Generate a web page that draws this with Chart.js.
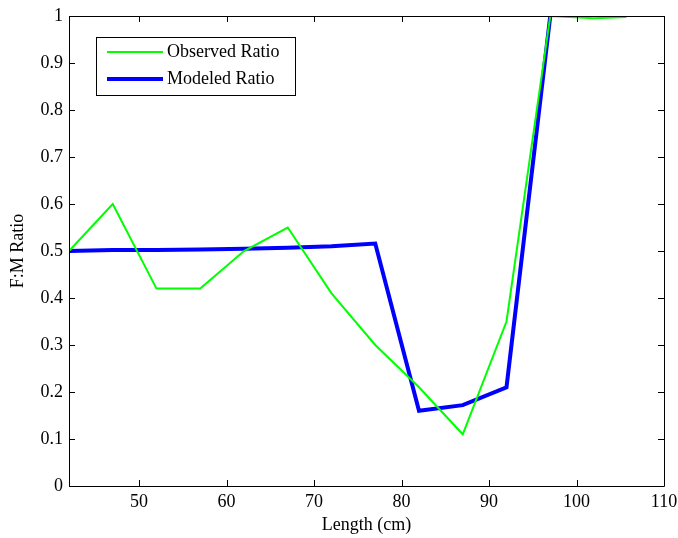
<!DOCTYPE html>
<html>
<head>
<meta charset="utf-8">
<script src="https://cdn.jsdelivr.net/npm/chart.js@4.4.0/dist/chart.umd.min.js"></script>
<style>
  html, body { margin: 0; padding: 0; background: #fff; }
  #wrap { width: 678px; height: 538px; }
</style>
</head>
<body>
<div id="wrap"><canvas id="chart"></canvas></div>
<script>
/* ── Data ───────────────────────────────────────────────────── */
const OBS_LENGTH = [42, 47, 52, 57, 62, 67, 72, 77, 82, 87, 92, 97, 102, 105.7];
const OBS_RATIO  = [0.50, 0.60, 0.42, 0.42, 0.50, 0.55, 0.41, 0.30, 0.21, 0.11, 0.35, 1.00, 0.995, 0.998];

const MOD_LENGTH = [42, 47, 52, 57, 62, 67, 72, 77, 82, 87, 92, 97];
const MOD_RATIO  = [0.500, 0.502, 0.502, 0.503, 0.505, 0.507, 0.510, 0.516, 0.160, 0.172, 0.210, 1.000];

const X_TICKS = [50, 60, 70, 80, 90, 100, 110];
const Y_TICKS = [0, 0.1, 0.2, 0.3, 0.4, 0.5, 0.6, 0.7, 0.8, 0.9, 1];

const FONT = "'Liberation Serif', 'Times New Roman', serif";

const toPoints = (xs, ys) => xs.map((x, i) => ({ x, y: ys[i] }));

/* ── Box frame with inward ticks on all four sides ──────────── */
const framePlugin = {
  id: 'frame',
  afterDatasetsDraw(chart) {
    const { ctx, chartArea: a, scales: { x, y } } = chart;
    const len = 6;
    ctx.save();
    ctx.strokeStyle = '#000';
    ctx.lineWidth = 1;
    ctx.beginPath();
    ctx.rect(Math.round(a.left) + 0.5, Math.round(a.top) + 0.5,
             Math.round(a.right - a.left), Math.round(a.bottom - a.top));
    X_TICKS.forEach(v => {
      const px = Math.round(x.getPixelForValue(v)) + 0.5;
      ctx.moveTo(px, a.bottom); ctx.lineTo(px, a.bottom - len);
      ctx.moveTo(px, a.top);    ctx.lineTo(px, a.top + len);
    });
    Y_TICKS.forEach(v => {
      const py = Math.round(y.getPixelForValue(v)) + 0.5;
      ctx.moveTo(a.left, py);  ctx.lineTo(a.left + len, py);
      ctx.moveTo(a.right, py); ctx.lineTo(a.right - len, py);
    });
    ctx.stroke();
    ctx.restore();
  },
};

/* ── Boxed legend in the upper left of the plot ─────────────── */
const legendBoxPlugin = {
  id: 'legendBox',
  afterDraw(chart) {
    const { ctx } = chart;
    const box = { x: 96, y: 37, w: 199, h: 58 };
    ctx.save();
    ctx.fillStyle = '#fff';
    ctx.fillRect(box.x, box.y, box.w, box.h);
    ctx.strokeStyle = '#000';
    ctx.lineWidth = 1;
    ctx.strokeRect(box.x + 0.5, box.y + 0.5, box.w, box.h);
    ctx.font = `18px ${FONT}`;
    ctx.textBaseline = 'middle';
    ctx.fillStyle = '#000';
    chart.data.datasets.forEach((ds, i) => {
      const ry = 52 + i * 27;
      ctx.strokeStyle = ds.borderColor;
      ctx.lineWidth = ds.borderWidth;
      ctx.beginPath();
      ctx.moveTo(107, ry);
      ctx.lineTo(163, ry);
      ctx.stroke();
      ctx.fillText(ds.label, 167, ry);
    });
    ctx.restore();
  },
};

/* ── Chart ──────────────────────────────────────────────────── */
new Chart(document.getElementById('chart'), {
  type: 'scatter',
  data: {
    datasets: [
      {
        label: 'Observed Ratio',
        data: toPoints(OBS_LENGTH, OBS_RATIO),
        showLine: true,
        borderColor: '#00ff00',
        borderWidth: 2,
        pointRadius: 0,
        tension: 0,
      },
      {
        label: 'Modeled Ratio',
        data: toPoints(MOD_LENGTH, MOD_RATIO),
        showLine: true,
        borderColor: '#0000ff',
        borderWidth: 4,
        pointRadius: 0,
        tension: 0,
      },
    ],
  },
  options: {
    responsive: true,
    maintainAspectRatio: false,
    animation: false,
    layout: { padding: { left: 7, top: 16, right: 14, bottom: 2 } },
    plugins: {
      legend: { display: false },
      tooltip: { enabled: false },
    },
    scales: {
      x: {
        type: 'linear',
        min: 42,
        max: 110,
        grid: { display: false, drawTicks: false },
        border: { display: false },
        afterBuildTicks: s => { s.ticks = X_TICKS.map(v => ({ value: v })); },
        afterFit: s => { s.height = 50; s.paddingLeft = 0; s.paddingRight = 0; },
        ticks: {
          color: '#000',
          padding: 5,
          maxRotation: 0,
          font: { family: FONT, size: 18 },
        },
        title: {
          display: true,
          text: 'Length (cm)',
          color: '#000',
          padding: 0,
          font: { family: FONT, size: 18 },
        },
      },
      y: {
        type: 'linear',
        min: 0,
        max: 1,
        grid: { display: false, drawTicks: false },
        border: { display: false },
        afterBuildTicks: s => { s.ticks = Y_TICKS.map(v => ({ value: v })); },
        afterFit: s => { s.width = 62; s.paddingTop = 0; s.paddingBottom = 0; },
        ticks: {
          color: '#000',
          padding: 6,
          font: { family: FONT, size: 18 },
          callback: v => (v === 0 || v === 1) ? String(v) : v.toFixed(1),
        },
        title: {
          display: true,
          text: 'F:M Ratio',
          color: '#000',
          padding: 0,
          font: { family: FONT, size: 18 },
        },
      },
    },
  },
  plugins: [framePlugin, legendBoxPlugin],
});
</script>
</body>
</html>
